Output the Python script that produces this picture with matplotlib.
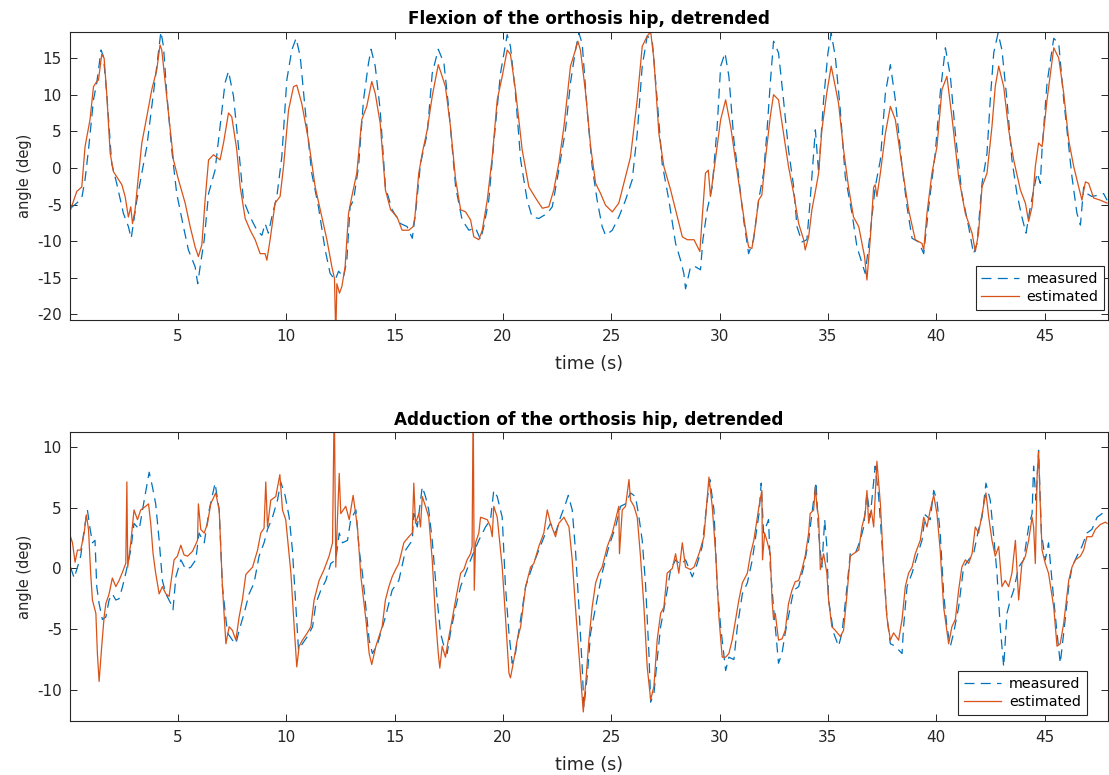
import matplotlib
matplotlib.use("Agg")
import matplotlib.pyplot as plt

plt.rcParams['font.family'] = ['DejaVu Sans']
plt.rcParams['axes.unicode_minus'] = False

# ---------------- data (time s, angle deg) ----------------
flex_measured = [(0.05,-5.5),(0.34,-4.8),(0.57,-4.1),(0.72,-1.6),(0.88,2.5),(1.11,9.3),(1.26,11.6),(1.46,16.1),(1.57,15.2),(1.72,10.2),(1.95,0.6),(2.18,-2.1),(2.49,-6.2),(2.72,-8.0),(2.85,-9.6),(2.95,-7.6),(3.11,-4.4),(3.34,-0.7),(3.57,2.9),(3.80,8.4),(4.03,13.9),(4.22,18.6),(4.34,16.6),(4.49,10.2),(4.72,2.5),(4.95,-3.5),(5.26,-8.0),(5.49,-11.2),(5.80,-13.5),(5.92,-15.8),(6.03,-13.5),(6.22,-9.8),(6.42,-3.5),(6.72,-0.3),(6.95,5.7),(7.18,11.6),(7.34,13.2),(7.57,9.8),(7.80,2.9),(8.03,-4.4),(8.34,-6.7),(8.65,-8.5),(8.88,-9.2),(9.03,-7.6),(9.18,-8.9),(9.34,-6.7),(9.57,-3.9),(9.80,1.5),(10.03,12.0),(10.26,16.1),(10.46,17.7),(10.65,15.2),(10.88,7.9),(11.18,-0.7),(11.49,-5.3),(11.80,-11.2),(12.03,-14.4),(12.26,-15.3),(12.42,-14.1),(12.65,-14.9),(12.80,-12.6),(12.95,-5.3),(13.11,-4.4),(13.34,0.2),(13.57,9.3),(13.80,14.3),(13.92,16.2),(14.11,13.9),(14.34,7.9),(14.58,-2.6),(14.89,-5.7),(15.28,-7.6),(15.58,-8.0),(15.82,-9.6),(15.97,-6.2),(16.20,0.6),(16.51,4.7),(16.74,12.9),(17.02,16.2),(17.28,14.3),(17.51,7.9),(17.82,-2.6),(18.12,-7.1),(18.43,-8.5),(18.74,-8.2),(18.97,-9.8),(19.12,-8.0),(19.35,-4.4),(19.58,3.4),(19.89,12.9),(20.20,18.2),(20.35,16.6),(20.58,10.2),(20.82,1.1),(21.12,-4.4),(21.35,-6.7),(21.66,-6.9),(22.05,-6.2),(22.28,-5.3),(22.58,-0.3),(22.89,5.2),(23.12,11.6),(23.35,16.1),(23.51,18.4),(23.66,17.0),(23.89,7.9),(24.12,0.2),(24.35,-4.4),(24.58,-8.0),(24.74,-9.2),(25.05,-8.5),(25.35,-6.7),(25.66,-4.4),(25.97,-1.6),(26.20,4.7),(26.43,13.9),(26.66,18.0),(26.89,17.5),(27.12,9.3),(27.35,0.6),(27.66,-4.4),(27.97,-10.3),(28.20,-12.6),(28.35,-14.4),(28.43,-16.5),(28.66,-13.5),(28.89,-13.5),(29.12,-13.9),(29.23,-9.8),(29.43,-5.7),(29.66,-2.6),(29.89,5.7),(30.05,13.9),(30.25,15.7),(30.43,12.5),(30.66,3.8),(30.88,-1.2),(31.11,-7.1),(31.34,-11.7),(31.57,-9.8),(31.80,-4.4),(32.03,-0.7),(32.18,4.7),(32.34,11.6),(32.49,17.3),(32.72,15.7),(32.95,9.3),(33.18,2.5),(33.42,-2.6),(33.57,-8.0),(33.80,-10.1),(34.03,-9.8),(34.18,-4.4),(34.42,5.2),(34.57,-0.7),(34.80,9.3),(35.00,15.7),(35.15,18.4),(35.34,15.2),(35.57,7.9),(35.80,-1.2),(36.11,-6.2),(36.34,-10.8),(36.57,-13.0),(36.72,-14.4),(36.95,-8.9),(37.18,-2.6),(37.42,1.1),(37.65,10.2),(37.88,14.1),(38.11,9.3),(38.42,0.2),(38.65,-5.3),(38.88,-9.6),(39.18,-10.1),(39.42,-11.7),(39.65,-5.3),(39.95,2.0),(40.18,10.2),(40.42,16.4),(40.65,12.5),(40.88,4.7),(41.18,-3.5),(41.49,-8.0),(41.72,-11.7),(41.88,-10.3),(42.11,-2.1),(42.34,2.0),(42.49,9.3),(42.65,15.7),(42.85,18.4),(43.03,16.1),(43.26,9.3),(43.49,1.1),(43.72,-3.5),(43.95,-6.7),(44.14,-8.9),(44.34,-5.3),(44.65,-0.7),(44.80,-2.1),(44.88,2.5),(45.11,11.6),(45.42,17.7),(45.65,17.0),(45.88,9.3),(46.11,2.9),(46.26,-1.2),(46.49,-6.2),(46.65,-7.8),(46.80,-2.6),(46.95,-3.5),(47.18,-3.9),(47.49,-3.7),(47.72,-3.5),(47.88,-4.4)]

flex_estimated = [(0.05,-5.7),(0.34,-3.2),(0.57,-2.6),(0.72,2.9),(0.95,6.6),(1.11,11.1),(1.26,11.8),(1.34,12.0),(1.49,15.5),(1.60,15.0),(1.72,10.2),(1.88,2.0),(2.03,-0.5),(2.18,-1.2),(2.42,-2.3),(2.57,-3.9),(2.72,-6.7),(2.83,-5.3),(2.91,-7.6),(3.03,-5.7),(3.18,-1.2),(3.34,3.4),(3.57,7.0),(3.80,10.7),(4.03,13.4),(4.18,16.8),(4.26,16.1),(4.42,11.6),(4.57,7.5),(4.80,1.1),(5.03,-1.6),(5.34,-4.8),(5.57,-8.0),(5.80,-10.8),(5.95,-12.1),(6.11,-10.5),(6.26,-4.4),(6.42,1.1),(6.65,1.8),(6.95,1.1),(7.11,3.4),(7.34,7.5),(7.49,7.0),(7.72,2.5),(7.88,-2.6),(8.11,-6.9),(8.34,-8.5),(8.57,-9.8),(8.80,-11.7),(9.03,-11.7),(9.11,-12.6),(9.26,-9.8),(9.49,-4.8),(9.72,-3.9),(9.88,0.2),(10.11,7.9),(10.34,11.1),(10.49,11.3),(10.72,8.8),(11.03,3.8),(11.34,-2.6),(11.65,-6.7),(11.88,-9.8),(12.11,-13.5),(12.23,-15.1),(12.29,-23.0),(12.34,-15.8),(12.46,-17.1),(12.57,-16.2),(12.72,-13.5),(12.88,-6.2),(13.03,-3.9),(13.26,-0.7),(13.49,6.6),(13.72,8.4),(13.95,11.8),(14.11,10.2),(14.34,6.1),(14.58,-3.0),(14.82,-5.7),(15.12,-6.7),(15.35,-8.5),(15.66,-8.5),(15.86,-8.0),(15.94,-6.7),(16.12,-0.7),(16.28,2.0),(16.51,5.2),(16.74,9.8),(17.02,14.1),(17.20,12.5),(17.35,11.1),(17.58,5.7),(17.82,-1.6),(18.05,-5.7),(18.28,-6.0),(18.51,-7.1),(18.66,-9.4),(18.89,-9.8),(19.05,-8.5),(19.28,-4.4),(19.51,1.5),(19.74,9.3),(19.97,12.5),(20.20,16.1),(20.35,15.5),(20.58,10.7),(20.89,2.5),(21.20,-2.6),(21.51,-4.1),(21.82,-5.5),(22.12,-5.3),(22.35,-3.0),(22.58,0.6),(22.82,5.7),(23.12,13.9),(23.35,16.1),(23.46,17.3),(23.58,16.1),(23.82,10.2),(24.05,2.9),(24.28,-2.1),(24.51,-3.5),(24.74,-5.1),(25.05,-6.0),(25.35,-4.8),(25.58,-2.1),(25.89,1.5),(26.20,9.3),(26.43,16.6),(26.66,18.0),(26.82,18.6),(26.97,14.8),(27.20,4.7),(27.43,0.2),(27.74,-3.0),(28.05,-6.7),(28.28,-9.4),(28.51,-9.8),(28.82,-9.8),(29.09,-11.4),(29.20,-6.7),(29.35,-0.7),(29.48,-0.3),(29.58,-3.9),(29.82,1.5),(30.05,6.6),(30.28,9.3),(30.51,5.7),(30.82,-0.7),(31.18,-8.0),(31.34,-10.8),(31.49,-11.0),(31.65,-8.0),(31.80,-4.4),(31.95,-3.7),(32.11,1.1),(32.34,7.0),(32.49,10.0),(32.72,9.3),(32.95,4.7),(33.18,0.2),(33.42,-3.5),(33.65,-7.6),(33.88,-9.8),(33.95,-11.2),(34.11,-9.4),(34.26,-5.7),(34.42,-3.2),(34.57,-0.7),(34.72,5.2),(34.95,10.3),(35.15,13.9),(35.34,11.1),(35.49,8.8),(35.72,2.5),(35.95,-2.6),(36.18,-6.7),(36.42,-8.0),(36.57,-10.3),(36.69,-12.1),(36.80,-15.3),(36.95,-9.8),(37.11,-2.6),(37.18,-2.3),(37.26,-3.9),(37.42,-0.7),(37.65,4.7),(37.88,8.4),(38.11,6.6),(38.42,0.2),(38.72,-5.7),(39.03,-9.8),(39.34,-10.3),(39.42,-11.2),(39.57,-6.2),(39.80,-0.7),(40.03,2.9),(40.26,10.7),(40.49,12.5),(40.72,7.0),(41.03,-1.2),(41.34,-6.2),(41.65,-8.9),(41.80,-11.4),(41.95,-8.9),(42.11,-2.6),(42.34,-0.7),(42.57,5.7),(42.72,11.1),(42.88,13.9),(43.11,11.1),(43.34,5.2),(43.57,1.1),(43.88,-3.0),(44.11,-4.8),(44.26,-7.3),(44.42,-5.3),(44.57,0.2),(44.72,3.4),(44.88,2.9),(45.11,9.3),(45.42,16.4),(45.65,15.0),(45.88,10.2),(46.11,3.8),(46.34,0.2),(46.57,-2.6),(46.72,-4.4),(46.88,-1.9),(47.03,-2.1),(47.26,-4.1),(47.57,-4.4),(47.88,-4.8)]

add_measured = [(0.05,0.1),(0.22,-0.8),(0.37,0.1),(0.52,1.0),(0.68,3.2),(0.83,4.8),(0.94,3.4),(1.06,2.1),(1.18,2.3),(1.26,-1.5),(1.37,-2.9),(1.52,-4.2),(1.68,-4.0),(1.83,-2.6),(1.98,-2.1),(2.14,-2.6),(2.29,-2.5),(2.45,-1.5),(2.60,-0.4),(2.83,1.5),(2.98,3.7),(3.22,3.2),(3.45,5.6),(3.68,7.9),(3.83,6.7),(3.98,5.3),(4.14,2.3),(4.29,-1.0),(4.45,-2.1),(4.68,-2.9),(4.78,-3.4),(4.91,-0.7),(5.14,0.7),(5.37,-0.1),(5.60,0.1),(5.83,0.7),(5.98,2.9),(6.22,2.1),(6.45,4.8),(6.72,7.0),(6.91,4.8),(7.06,-1.5),(7.29,-5.3),(7.52,-5.9),(7.68,-6.2),(7.83,-5.1),(8.06,-3.7),(8.29,-2.1),(8.52,-1.2),(8.75,1.0),(8.98,2.1),(9.14,3.2),(9.37,4.2),(9.60,5.6),(9.75,7.1),(9.95,6.0),(10.14,4.2),(10.29,1.5),(10.45,-3.2),(10.57,-6.7),(10.75,-6.2),(10.98,-5.6),(11.22,-4.8),(11.37,-2.9),(11.60,-1.8),(11.83,-1.0),(12.06,0.4),(12.29,0.7),(12.45,2.9),(12.60,2.1),(12.83,2.3),(12.98,4.0),(13.22,4.8),(13.37,1.5),(13.52,-0.4),(13.68,-3.2),(13.83,-5.9),(13.98,-7.0),(14.22,-6.2),(14.58,-4.0),(14.89,-1.8),(15.20,-1.0),(15.51,1.5),(15.82,2.3),(15.89,4.5),(16.05,3.4),(16.28,6.7),(16.43,5.9),(16.58,4.8),(16.74,2.3),(16.97,-2.6),(17.12,-5.3),(17.28,-6.4),(17.43,-7.0),(17.58,-5.3),(17.82,-3.2),(18.05,-1.5),(18.28,-0.4),(18.58,1.0),(18.89,2.3),(19.20,3.4),(19.43,4.0),(19.58,6.4),(19.74,5.9),(19.97,4.2),(20.12,-1.5),(20.28,-5.3),(20.43,-7.8),(20.58,-7.0),(20.74,-5.1),(21.05,-1.5),(21.35,0.1),(21.66,1.5),(21.97,2.9),(22.20,3.7),(22.43,2.9),(22.66,4.2),(22.89,5.3),(23.02,6.0),(23.20,4.8),(23.35,1.5),(23.51,-3.2),(23.66,-8.1),(23.74,-11.4),(23.89,-8.9),(24.05,-5.3),(24.28,-3.2),(24.58,-0.4),(24.89,1.8),(25.20,3.4),(25.43,5.1),(25.66,5.3),(25.89,6.2),(26.12,5.9),(26.28,4.2),(26.43,2.3),(26.58,-1.2),(26.74,-7.0),(26.82,-11.0),(26.97,-10.3),(27.12,-7.5),(27.28,-4.8),(27.51,-2.6),(27.74,-0.1),(27.97,0.7),(28.20,0.3),(28.43,0.7),(28.74,-0.7),(28.97,0.4),(29.20,1.8),(29.43,5.6),(29.55,7.3),(29.74,4.8),(29.89,-1.5),(30.05,-4.8),(30.28,-8.4),(30.43,-7.3),(30.66,-7.5),(30.82,-4.8),(31.05,-2.1),(31.28,-1.2),(31.51,0.7),(31.82,4.5),(31.92,7.0),(32.03,2.9),(32.26,4.0),(32.34,0.1),(32.49,-3.2),(32.65,-6.4),(32.72,-7.8),(32.88,-7.0),(33.03,-5.3),(33.26,-3.2),(33.42,-1.8),(33.65,-1.5),(33.88,0.1),(34.11,2.3),(34.26,4.5),(34.45,7.1),(34.57,2.9),(34.72,0.1),(34.85,4.0),(34.95,1.8),(35.03,-2.6),(35.26,-5.3),(35.49,-6.4),(35.65,-5.3),(35.88,-1.5),(36.03,1.2),(36.26,1.2),(36.49,2.3),(36.65,3.4),(36.80,6.2),(36.95,4.2),(37.18,8.4),(37.34,5.9),(37.57,0.1),(37.72,-4.0),(37.88,-6.2),(38.11,-6.4),(38.26,-6.7),(38.42,-7.0),(38.49,-4.8),(38.65,-1.5),(38.88,-0.4),(39.11,1.0),(39.34,2.3),(39.49,4.4),(39.72,4.0),(39.88,6.4),(40.03,5.6),(40.18,2.9),(40.34,-2.1),(40.49,-4.8),(40.65,-6.4),(40.80,-5.3),(41.03,-3.2),(41.26,0.1),(41.49,0.7),(41.72,1.2),(41.95,3.2),(42.11,4.2),(42.29,7.0),(42.49,5.6),(42.65,2.6),(42.80,-0.4),(42.95,-4.8),(43.11,-8.1),(43.26,-3.7),(43.42,-2.6),(43.57,-1.8),(43.80,0.1),(44.03,0.7),(44.26,3.4),(44.42,4.5),(44.49,8.4),(44.60,5.6),(44.72,9.7),(44.85,2.9),(45.03,0.7),(45.18,2.1),(45.42,-2.6),(45.57,-5.3),(45.72,-7.8),(45.88,-5.3),(46.11,-1.5),(46.26,0.1),(46.49,1.0),(46.72,1.8),(46.95,2.9),(47.18,3.2),(47.42,4.2),(47.65,4.5),(47.80,4.8)]

add_estimated = [(0.05,2.6),(0.14,2.1),(0.26,0.5),(0.37,1.5),(0.52,1.5),(0.68,2.9),(0.78,4.4),(0.88,3.2),(0.98,-0.4),(1.06,-2.6),(1.22,-3.7),(1.29,-7.0),(1.37,-9.3),(1.49,-6.4),(1.60,-4.0),(1.68,-2.9),(1.83,-2.1),(1.98,-0.8),(2.14,-1.5),(2.29,-1.0),(2.45,-0.3),(2.60,0.4),(2.65,7.1),(2.69,0.1),(2.83,2.1),(2.98,4.8),(3.14,4.0),(3.29,4.8),(3.52,5.1),(3.65,5.3),(3.75,3.7),(3.86,1.2),(3.98,-0.4),(4.14,-2.1),(4.29,-1.5),(4.45,-2.1),(4.60,-2.3),(4.68,-1.2),(4.83,0.7),(4.98,1.0),(5.14,1.9),(5.29,1.1),(5.45,1.0),(5.68,1.4),(5.91,2.3),(5.95,5.3),(6.06,3.2),(6.22,2.9),(6.37,3.7),(6.52,5.3),(6.75,6.2),(6.91,4.8),(7.06,-1.5),(7.22,-6.2),(7.37,-4.8),(7.52,-5.1),(7.68,-5.9),(7.83,-4.0),(7.98,-2.6),(8.14,-0.5),(8.45,0.1),(8.68,1.5),(8.83,2.9),(8.98,3.3),(9.06,7.1),(9.14,3.4),(9.29,5.6),(9.52,5.9),(9.71,7.7),(9.83,4.8),(9.98,4.0),(10.22,-0.4),(10.37,-4.8),(10.49,-8.1),(10.60,-6.4),(10.75,-5.9),(10.98,-5.3),(11.14,-4.8),(11.29,-2.6),(11.52,-1.0),(11.75,-0.1),(11.98,1.0),(12.14,2.1),(12.22,14.0),(12.29,0.1),(12.37,4.2),(12.45,7.8),(12.52,4.5),(12.75,5.1),(12.91,4.0),(13.09,6.0),(13.29,3.4),(13.45,-0.7),(13.68,-4.2),(13.83,-7.0),(13.95,-7.9),(14.14,-6.4),(14.43,-4.8),(14.58,-2.6),(14.74,-1.5),(14.89,-0.7),(15.05,-0.1),(15.20,0.4),(15.43,2.1),(15.66,2.6),(15.82,2.9),(15.89,7.0),(15.97,3.7),(16.12,4.5),(16.20,3.4),(16.28,5.9),(16.43,5.1),(16.58,4.2),(16.74,0.7),(16.89,-4.0),(17.02,-7.0),(17.09,-8.2),(17.20,-6.4),(17.35,-7.3),(17.51,-5.6),(17.66,-4.2),(17.82,-2.6),(18.05,-0.4),(18.20,-0.1),(18.35,0.7),(18.51,1.2),(18.58,1.8),(18.63,14.0),(18.68,-1.8),(18.74,2.1),(18.89,2.9),(18.97,4.2),(19.12,4.1),(19.28,4.0),(19.43,3.4),(19.51,2.6),(19.58,5.1),(19.74,4.2),(19.97,0.1),(20.12,-4.0),(20.28,-8.6),(20.35,-9.0),(20.51,-7.5),(20.66,-5.9),(20.82,-4.8),(21.05,-1.5),(21.28,0.1),(21.43,0.4),(21.66,1.8),(21.89,2.9),(22.05,4.8),(22.20,3.7),(22.43,2.6),(22.58,3.7),(22.82,4.2),(23.05,3.4),(23.20,0.7),(23.35,-3.2),(23.51,-7.0),(23.71,-11.8),(23.82,-9.5),(23.97,-5.9),(24.12,-3.2),(24.28,-1.2),(24.43,-0.4),(24.58,0.1),(24.82,1.8),(25.05,2.9),(25.20,4.0),(25.35,5.1),(25.38,1.2),(25.51,4.8),(25.66,5.1),(25.82,7.3),(25.89,5.6),(26.05,5.1),(26.20,4.2),(26.35,1.0),(26.51,-3.2),(26.66,-8.1),(26.82,-10.8),(26.97,-9.7),(27.12,-5.9),(27.28,-3.7),(27.43,-3.2),(27.58,-0.4),(27.82,0.0),(27.97,1.2),(28.12,-0.4),(28.28,2.1),(28.43,0.1),(28.66,-0.1),(28.82,0.1),(29.05,1.2),(29.28,2.6),(29.51,7.5),(29.66,5.1),(29.82,1.2),(29.97,-4.0),(30.12,-7.3),(30.28,-7.3),(30.43,-7.0),(30.58,-5.9),(30.74,-4.2),(30.89,-2.6),(31.05,-1.2),(31.28,-0.4),(31.43,1.2),(31.58,2.3),(31.82,5.1),(31.95,6.4),(31.98,0.7),(32.08,2.9),(32.18,2.3),(32.34,1.2),(32.42,-2.6),(32.49,-4.2),(32.57,-3.7),(32.72,-5.9),(32.88,-5.8),(33.03,-5.1),(33.18,-2.9),(33.34,-1.8),(33.49,-1.1),(33.65,-1.0),(33.80,-0.1),(33.95,1.0),(34.11,2.9),(34.18,4.5),(34.34,4.8),(34.42,6.7),(34.49,5.1),(34.57,4.2),(34.65,-0.1),(34.80,1.2),(34.95,-0.4),(35.03,-2.6),(35.18,-4.8),(35.34,-5.1),(35.57,-5.6),(35.72,-5.1),(35.88,-2.1),(36.03,1.0),(36.18,1.2),(36.42,1.5),(36.57,3.4),(36.72,4.5),(36.80,6.4),(36.88,3.7),(37.00,4.8),(37.11,3.4),(37.26,8.8),(37.42,5.3),(37.57,0.1),(37.72,-4.0),(37.88,-5.9),(38.03,-5.3),(38.26,-5.9),(38.42,-4.2),(38.57,-1.5),(38.72,-0.4),(38.88,0.1),(39.03,1.2),(39.26,2.3),(39.42,4.2),(39.57,3.4),(39.72,4.8),(39.88,6.0),(40.03,4.5),(40.18,1.5),(40.34,-3.2),(40.57,-6.2),(40.72,-4.8),(40.88,-4.2),(41.03,-1.8),(41.18,0.1),(41.34,0.7),(41.49,0.4),(41.65,1.2),(41.80,3.4),(41.95,2.9),(42.18,5.1),(42.29,6.2),(42.42,4.2),(42.57,2.3),(42.72,1.0),(42.88,1.8),(43.03,-1.5),(43.18,-1.0),(43.34,-1.5),(43.49,-0.4),(43.65,2.3),(43.80,-2.6),(43.95,0.4),(44.11,1.0),(44.26,2.3),(44.42,4.2),(44.49,3.4),(44.57,0.4),(44.65,7.5),(44.72,9.6),(44.80,5.1),(44.88,1.5),(45.03,0.4),(45.18,-0.4),(45.42,-3.2),(45.57,-6.4),(45.72,-6.2),(45.88,-4.5),(46.11,-1.0),(46.26,0.1),(46.42,0.7),(46.65,1.0),(46.80,1.5),(46.95,2.6),(47.18,2.6),(47.34,3.2),(47.57,3.6),(47.80,3.8),(47.88,3.7)]

titles = ["Flexion of the orthosis hip, detrended", "Adduction of the orthosis hip, detrended"]
series_labels = ["measured", "estimated"]
xticks = [5, 10, 15, 20, 25, 30, 35, 40, 45]
flex_yticks = [-20, -15, -10, -5, 0, 5, 10, 15]
add_yticks = [-10, -5, 0, 5, 10]

# ---------------- styling ----------------
C_MEAS = '#0072BD'
C_EST = '#D95319'
AX_C = '#262626'

W, H = 1109, 775
fig = plt.figure(figsize=(W / 100, H / 100), dpi=100)
left, right = 70.3, 1107.5
ax1 = fig.add_axes([left / W, 1 - 320.3 / H, (right - left) / W, (320.3 - 31.7) / H])
ax2 = fig.add_axes([left / W, 1 - 721.3 / H, (right - left) / W, (721.3 - 432.3) / H])


def draw(ax, meas, est, title, yticks, ylim, legend_anchor):
    tm, vm = zip(*meas)
    te, ve = zip(*est)
    ax.plot(tm, vm, color=C_MEAS, lw=0.9, dashes=(8, 5), label=series_labels[0])
    ax.plot(te, ve, color=C_EST, lw=0.9, label=series_labels[1])
    ax.set_xlim(0.04, 47.9)
    ax.set_ylim(*ylim)
    ax.set_xticks(xticks)
    ax.set_yticks(yticks)
    ax.tick_params(direction='in', top=True, right=True, length=5, width=0.7,
                   colors=AX_C, labelsize=11)
    ax.tick_params(axis='x', pad=6)
    ax.tick_params(axis='y', pad=6)
    for s in ax.spines.values():
        s.set_color(AX_C)
        s.set_linewidth(0.8)
    ax.set_title(title, fontsize=12.2, fontweight='bold', color='black', pad=5.5)
    ax.set_xlabel('time (s)', fontsize=12.6, color=AX_C, labelpad=8)
    ax.set_ylabel('angle (deg)', fontsize=10.5, color=AX_C, labelpad=4)
    leg = ax.legend(loc='lower right', bbox_to_anchor=legend_anchor, fontsize=10.3,
                    frameon=True, fancybox=False, framealpha=1, edgecolor=AX_C,
                    handlelength=2.6, borderpad=0.4, labelspacing=0.3,
                    handletextpad=0.55, borderaxespad=0)
    leg.get_frame().set_linewidth(0.8)


draw(ax1, flex_measured, flex_estimated, titles[0], flex_yticks, (-20.8, 18.6), (0.9966, 0.036))
draw(ax2, add_measured, add_estimated, titles[1], add_yticks, (-12.57, 11.18), (0.980, 0.022))

fig.savefig('out.png', dpi=100)
